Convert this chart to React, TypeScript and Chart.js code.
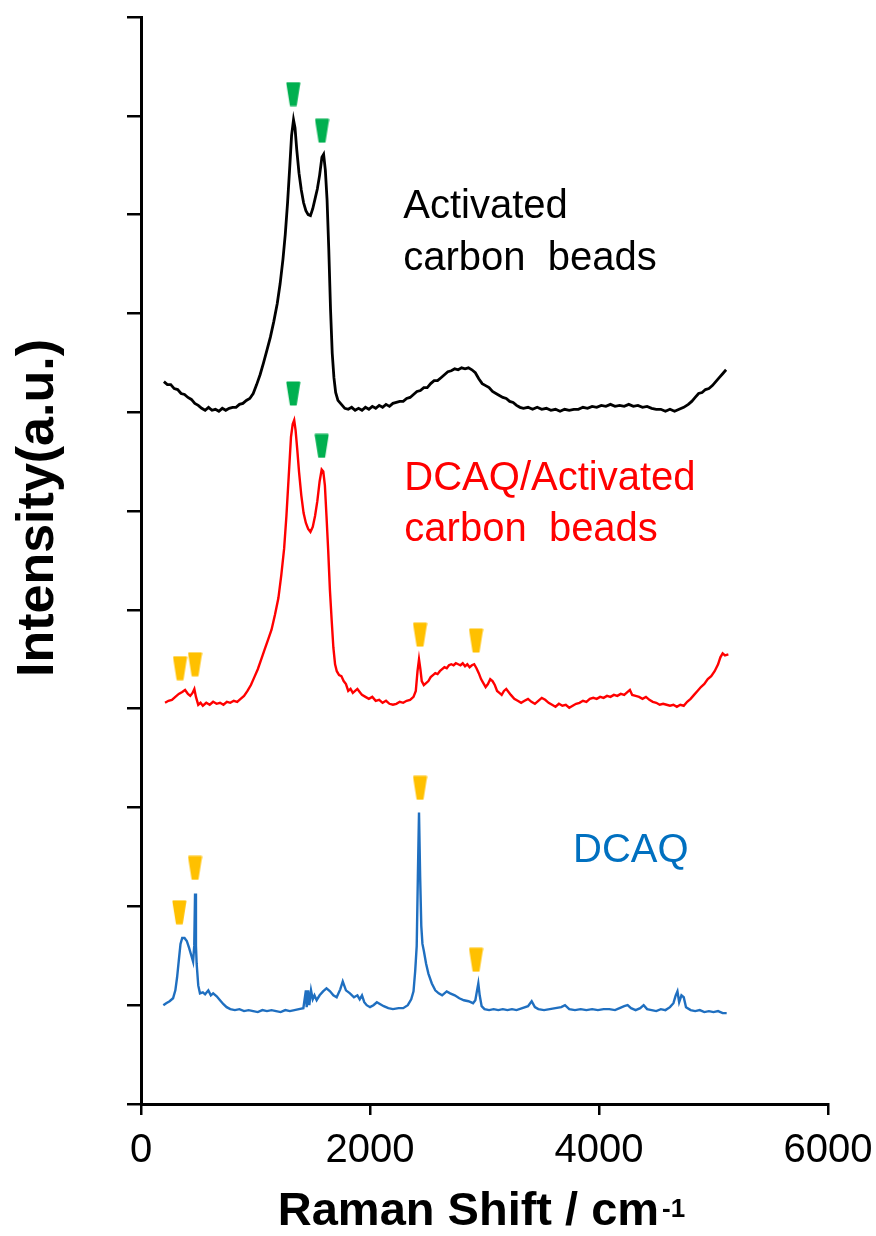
import { useEffect, useRef } from 'react';
import Chart from 'chart.js/auto';

const FONT = "'Liberation Sans', Arial, sans-serif";

// Raman shift (cm-1), offset intensity (a.u.)
const activatedCarbon: [number, number][] = [
  [200, 7.31], [230, 7.28], [260, 7.28], [290, 7.24], [320, 7.23], [350, 7.19], [380, 7.18], [410, 7.15],
  [440, 7.13], [470, 7.09], [500, 7.07], [530, 7.04], [560, 7.02], [590, 7.05], [620, 7.02], [650, 7.03],
  [680, 7.01], [710, 7.04], [740, 7.02], [770, 7.04], [800, 7.05], [830, 7.05], [860, 7.08], [890, 7.09],
  [920, 7.12], [950, 7.14], [980, 7.19], [1010, 7.28], [1040, 7.38], [1070, 7.50], [1100, 7.63], [1130, 7.76],
  [1160, 7.92], [1190, 8.10], [1215, 8.30], [1240, 8.55], [1260, 8.80], [1280, 9.12], [1300, 9.50], [1315, 9.80],
  [1332, 9.96], [1345, 9.88], [1360, 9.66], [1380, 9.42], [1400, 9.25], [1420, 9.12], [1440, 9.04], [1460, 9.00],
  [1480, 8.99], [1500, 9.06], [1520, 9.16], [1540, 9.26], [1560, 9.40], [1580, 9.58], [1595, 9.61], [1610, 9.45],
  [1625, 9.15], [1640, 8.65], [1655, 8.05], [1670, 7.60], [1685, 7.35], [1700, 7.20], [1720, 7.12], [1750, 7.08],
  [1780, 7.04], [1810, 7.03], [1840, 7.05], [1870, 7.02], [1900, 7.04], [1930, 7.02], [1960, 7.05], [1990, 7.03],
  [2020, 7.06], [2050, 7.04], [2080, 7.07], [2110, 7.05], [2140, 7.08], [2170, 7.06], [2200, 7.09], [2230, 7.10],
  [2260, 7.11], [2290, 7.11], [2320, 7.14], [2350, 7.15], [2380, 7.18], [2410, 7.21], [2440, 7.22], [2470, 7.25],
  [2500, 7.25], [2530, 7.29], [2560, 7.32], [2590, 7.32], [2620, 7.35], [2650, 7.38], [2680, 7.41], [2710, 7.42],
  [2740, 7.44], [2770, 7.43], [2800, 7.45], [2830, 7.44], [2860, 7.45], [2890, 7.43], [2920, 7.40], [2950, 7.34],
  [2980, 7.29], [3010, 7.27], [3040, 7.25], [3070, 7.21], [3100, 7.19], [3130, 7.17], [3160, 7.15], [3190, 7.14],
  [3220, 7.11], [3250, 7.10], [3280, 7.07], [3310, 7.05], [3340, 7.04], [3380, 7.05], [3420, 7.03], [3460, 7.05],
  [3500, 7.03], [3540, 7.04], [3580, 7.02], [3620, 7.03], [3660, 7.01], [3700, 7.03], [3740, 7.02], [3780, 7.03],
  [3820, 7.03], [3860, 7.05], [3900, 7.04], [3940, 7.06], [3980, 7.05], [4020, 7.07], [4060, 7.06], [4100, 7.08],
  [4140, 7.06], [4180, 7.07], [4220, 7.06], [4260, 7.08], [4300, 7.06], [4340, 7.07], [4380, 7.05], [4420, 7.06],
  [4460, 7.04], [4500, 7.03], [4540, 7.03], [4580, 7.01], [4620, 7.03], [4660, 7.01], [4700, 7.03], [4740, 7.05],
  [4780, 7.08], [4810, 7.11], [4840, 7.15], [4870, 7.19], [4900, 7.20], [4930, 7.23], [4960, 7.24], [4990, 7.27],
  [5020, 7.31], [5050, 7.35], [5080, 7.39], [5110, 7.43],
];

const dcaqOnCarbon: [number, number][] = [
  [210, 4.06], [240, 4.08], [270, 4.09], [300, 4.12], [330, 4.15], [360, 4.17], [385, 4.19], [410, 4.15],
  [430, 4.13], [450, 4.16], [466, 4.20], [480, 4.12], [500, 4.04], [520, 4.06], [540, 4.03], [570, 4.06],
  [600, 4.04], [630, 4.07], [660, 4.05], [690, 4.06], [720, 4.04], [750, 4.07], [780, 4.06], [810, 4.08],
  [840, 4.07], [870, 4.10], [900, 4.13], [930, 4.18], [960, 4.24], [990, 4.32], [1020, 4.40], [1050, 4.50],
  [1080, 4.60], [1110, 4.70], [1140, 4.80], [1170, 4.95], [1200, 5.12], [1225, 5.35], [1250, 5.62], [1270, 5.95],
  [1290, 6.35], [1310, 6.75], [1325, 6.88], [1338, 6.92], [1350, 6.82], [1365, 6.62], [1380, 6.40], [1400, 6.16],
  [1420, 5.98], [1440, 5.88], [1460, 5.82], [1480, 5.79], [1500, 5.84], [1520, 5.95], [1540, 6.10], [1560, 6.30],
  [1578, 6.42], [1592, 6.40], [1606, 6.26], [1620, 5.95], [1635, 5.60], [1650, 5.20], [1665, 4.90], [1680, 4.62],
  [1695, 4.45], [1710, 4.38], [1730, 4.34], [1750, 4.33], [1770, 4.28], [1790, 4.25], [1810, 4.18], [1830, 4.20],
  [1850, 4.16], [1870, 4.18], [1890, 4.20], [1910, 4.17], [1930, 4.14], [1960, 4.12], [1990, 4.10], [2020, 4.12],
  [2050, 4.08], [2080, 4.09], [2110, 4.06], [2140, 4.08], [2170, 4.05], [2200, 4.04], [2230, 4.05], [2260, 4.07],
  [2290, 4.06], [2320, 4.08], [2350, 4.09], [2380, 4.12], [2400, 4.18], [2415, 4.38], [2428, 4.50], [2440, 4.40],
  [2452, 4.28], [2470, 4.24], [2490, 4.26], [2510, 4.28], [2530, 4.32], [2550, 4.34], [2570, 4.36], [2590, 4.35],
  [2610, 4.38], [2630, 4.40], [2650, 4.42], [2670, 4.41], [2690, 4.44], [2710, 4.45], [2730, 4.44], [2750, 4.46],
  [2770, 4.45], [2790, 4.44], [2810, 4.46], [2830, 4.43], [2850, 4.45], [2870, 4.42], [2890, 4.44], [2910, 4.45],
  [2930, 4.41], [2950, 4.36], [2970, 4.30], [2990, 4.26], [3010, 4.22], [3030, 4.25], [3050, 4.30], [3070, 4.28],
  [3090, 4.24], [3110, 4.18], [3130, 4.16], [3150, 4.14], [3170, 4.18], [3190, 4.20], [3210, 4.17], [3230, 4.14],
  [3260, 4.10], [3290, 4.08], [3320, 4.06], [3350, 4.08], [3380, 4.10], [3410, 4.07], [3440, 4.05], [3470, 4.08],
  [3500, 4.11], [3530, 4.09], [3560, 4.06], [3590, 4.04], [3620, 4.02], [3650, 4.05], [3680, 4.03], [3710, 4.04],
  [3740, 4.01], [3770, 4.03], [3800, 4.05], [3830, 4.06], [3860, 4.08], [3890, 4.07], [3920, 4.10], [3950, 4.11],
  [3980, 4.10], [4010, 4.12], [4040, 4.11], [4070, 4.13], [4100, 4.12], [4130, 4.14], [4160, 4.13], [4190, 4.15],
  [4220, 4.14], [4250, 4.17], [4270, 4.19], [4290, 4.14], [4320, 4.13], [4350, 4.12], [4380, 4.10], [4410, 4.12],
  [4440, 4.09], [4470, 4.07], [4500, 4.06], [4530, 4.04], [4560, 4.05], [4590, 4.04], [4620, 4.03], [4650, 4.04],
  [4680, 4.02], [4710, 4.04], [4740, 4.03], [4770, 4.07], [4800, 4.10], [4830, 4.14], [4860, 4.18], [4890, 4.22],
  [4920, 4.25], [4950, 4.30], [4980, 4.33], [5010, 4.38], [5040, 4.45], [5060, 4.52], [5080, 4.56], [5100, 4.54],
  [5130, 4.55],
];

const dcaq: [number, number][] = [
  [195, 1.00], [220, 1.02], [250, 1.04], [280, 1.07], [300, 1.15], [315, 1.28], [330, 1.45], [345, 1.62],
  [360, 1.68], [380, 1.68], [400, 1.65], [420, 1.58], [440, 1.50], [455, 1.44], [465, 1.60], [472, 2.13],
  [480, 1.60], [486, 1.42], [500, 1.20], [515, 1.12], [540, 1.13], [560, 1.11], [588, 1.15], [610, 1.10],
  [630, 1.12], [661, 1.09], [690, 1.05], [720, 1.01], [748, 0.98], [780, 0.96], [820, 0.95], [860, 0.96],
  [900, 0.94], [940, 0.95], [980, 0.94], [1020, 0.93], [1060, 0.95], [1100, 0.94], [1140, 0.95], [1180, 0.94],
  [1220, 0.93], [1260, 0.95], [1300, 0.94], [1340, 0.95], [1380, 0.96], [1418, 0.97], [1440, 1.15], [1447, 0.98],
  [1460, 1.15], [1470, 1.00], [1485, 1.15], [1500, 1.06], [1515, 1.10], [1534, 1.05], [1560, 1.10], [1590, 1.14],
  [1620, 1.17], [1651, 1.14], [1680, 1.10], [1709, 1.08], [1740, 1.16], [1762, 1.24], [1790, 1.15], [1825, 1.12],
  [1860, 1.08], [1890, 1.10], [1910, 1.06], [1930, 1.10], [1950, 1.03], [1971, 1.00], [2000, 0.98], [2030, 1.00],
  [2060, 1.03], [2090, 1.01], [2120, 0.99], [2160, 0.97], [2200, 0.96], [2250, 0.97], [2290, 0.97], [2330, 1.00],
  [2360, 1.06], [2380, 1.14], [2395, 1.35], [2408, 1.60], [2418, 2.30], [2428, 2.95], [2438, 2.30], [2448, 1.80],
  [2458, 1.62], [2470, 1.55], [2490, 1.42], [2510, 1.32], [2540, 1.22], [2570, 1.15], [2600, 1.12], [2630, 1.10],
  [2670, 1.14], [2700, 1.12], [2740, 1.10], [2780, 1.07], [2820, 1.05], [2860, 1.04], [2900, 1.02], [2920, 1.05],
  [2935, 1.15], [2946, 1.22], [2958, 1.10], [2975, 0.99], [3000, 0.96], [3040, 0.95], [3080, 0.96], [3120, 0.95],
  [3160, 0.96], [3200, 0.95], [3240, 0.96], [3280, 0.95], [3330, 0.97], [3380, 0.99], [3412, 1.04], [3440, 0.98],
  [3470, 0.96], [3520, 0.95], [3570, 0.96], [3620, 0.97], [3670, 0.98], [3703, 1.00], [3740, 0.96], [3790, 0.95],
  [3840, 0.96], [3890, 0.95], [3940, 0.96], [3990, 0.95], [4040, 0.96], [4090, 0.96], [4140, 0.95], [4180, 0.97],
  [4220, 0.99], [4250, 1.00], [4280, 0.97], [4320, 0.95], [4360, 0.97], [4390, 1.00], [4420, 0.96], [4460, 0.95],
  [4500, 0.94], [4540, 0.96], [4580, 0.95], [4620, 0.98], [4650, 1.02], [4670, 1.10], [4685, 1.14], [4700, 1.03],
  [4720, 1.10], [4740, 1.08], [4760, 0.98], [4800, 0.95], [4840, 0.94], [4880, 0.95], [4920, 0.93], [4960, 0.94],
  [5000, 0.93], [5040, 0.94], [5080, 0.92], [5115, 0.92],
];

const greenMarkers: [number, number][] = [
  [1330, 10.22], [1581, 9.85], [1330, 7.19], [1578, 6.66],
];
const orangeMarkers: [number, number][] = [
  [341, 4.41], [472, 4.45], [2437, 4.75], [2926, 4.69],
  [335, 1.94], [472, 2.39], [2437, 3.20], [2926, 1.46],
];

const seriesLabels = [
  { lines: ['Activated', 'carbon  beads'], x: 2290, y: [8.97, 8.44], color: '#000000' },
  { lines: ['DCAQ/Activated', 'carbon  beads'], x: 2300, y: [6.21, 5.70], color: '#ff0000' },
  { lines: ['DCAQ'], x: 3773, y: [2.45], color: '#0070c0' },
];

const xTitle = 'Raman Shift / cm';
const xTitleSup = '-1';
const yTitle = 'Intensity(a.u.)';

function makeMarker(color: string): HTMLCanvasElement {
  const c = document.createElement('canvas');
  c.width = 15;
  c.height = 25;
  const g = c.getContext('2d')!;
  g.fillStyle = color;
  g.strokeStyle = color;
  g.lineWidth = 2;
  g.lineJoin = 'round';
  g.beginPath();
  g.moveTo(1.5, 1.5);
  g.lineTo(13.5, 1.5);
  g.lineTo(10, 23.5);
  g.lineTo(5, 23.5);
  g.closePath();
  g.fill();
  g.stroke();
  return c;
}

const toPts = (arr: [number, number][]) => arr.map(([x, y]) => ({ x, y }));

const textPlugin = {
  id: 'textPlugin',
  afterDraw(chart: any) {
    const ctx = chart.ctx as CanvasRenderingContext2D;
    const xs = chart.scales.x;
    const ys = chart.scales.y;
    ctx.save();
    ctx.textAlign = 'left';
    ctx.textBaseline = 'alphabetic';
    ctx.font = `40px ${FONT}`;
    for (const l of seriesLabels) {
      ctx.fillStyle = l.color;
      l.lines.forEach((t, i) => {
        ctx.fillText(t, xs.getPixelForValue(l.x), ys.getPixelForValue(l.y[i]));
      });
    }
    // x title with superscript
    ctx.fillStyle = '#000';
    ctx.font = `bold 47px ${FONT}`;
    const w1 = ctx.measureText(xTitle).width;
    ctx.font = `bold 26px ${FONT}`;
    const w2 = ctx.measureText(xTitleSup).width;
    const cx = (chart.chartArea.left + chart.chartArea.right) / 2 - 3;
    const startX = cx - (w1 + 3 + w2) / 2;
    ctx.font = `bold 47px ${FONT}`;
    ctx.fillText(xTitle, startX, 1225);
    ctx.font = `bold 26px ${FONT}`;
    ctx.fillText(xTitleSup, startX + w1 + 3, 1217);
    // y title
    ctx.translate(53, 508);
    ctx.rotate(-Math.PI / 2);
    ctx.textAlign = 'center';
    ctx.font = `bold 52px ${FONT}`;
    ctx.fillText(yTitle, 0, 0);
    ctx.restore();
  },
};

export default function App() {
  const ref = useRef<HTMLCanvasElement>(null);
  useEffect(() => {
    if (!ref.current) return;
    const green = makeMarker('#00b050');
    const orange = makeMarker('#ffc000');
    const chart = new Chart(ref.current, {
      type: 'scatter',
      data: {
        datasets: [
          { data: toPts(activatedCarbon), showLine: true, borderColor: '#000000', borderWidth: 2.8, pointRadius: 0, tension: 0 },
          { data: toPts(dcaqOnCarbon), showLine: true, borderColor: '#ff0000', borderWidth: 2.4, pointRadius: 0, tension: 0 },
          { data: toPts(dcaq), showLine: true, borderColor: '#1f6fc0', borderWidth: 2.4, pointRadius: 0, tension: 0 },
          { data: toPts(greenMarkers), showLine: false, pointStyle: green as any, pointRadius: 6 },
          { data: toPts(orangeMarkers), showLine: false, pointStyle: orange as any, pointRadius: 6 },
        ] as any,
      },
      options: {
        responsive: false,
        animation: false,
        devicePixelRatio: 1,
        layout: { padding: { top: 17, right: 48, bottom: 0, left: 0 } },
        plugins: { legend: { display: false }, tooltip: { enabled: false } },
        scales: {
          x: {
            type: 'linear',
            min: 0,
            max: 6000,
            ticks: {
              stepSize: 2000,
              color: '#000',
              font: { family: FONT, size: 40 },
              padding: 12,
              maxRotation: 0,
              callback: (v: any) => String(v),
            },
            grid: { display: true, drawOnChartArea: false, drawTicks: true, tickLength: 11, color: '#000', lineWidth: 2.5 },
            border: { display: true, color: '#000', width: 3 },
            afterFit: (s: any) => { s.height = 132; s.paddingLeft = 0; s.paddingRight = 0; },
          },
          y: {
            type: 'linear',
            min: 0,
            max: 11,
            ticks: { stepSize: 1, display: false },
            grid: { display: true, drawOnChartArea: false, drawTicks: true, tickLength: 14, color: '#000', lineWidth: 2.5 },
            border: { display: true, color: '#000', width: 3 },
            afterFit: (s: any) => { s.width = 141; s.paddingTop = 0; s.paddingBottom = 0; },
          },
        },
      },
      plugins: [textPlugin],
    });
    return () => chart.destroy();
  }, []);
  return (
    <div style={{ position: 'fixed', left: 0, top: 0, width: 876, height: 1236, background: '#fff' }}>
      <canvas ref={ref} width={876} height={1236} />
    </div>
  );
}
